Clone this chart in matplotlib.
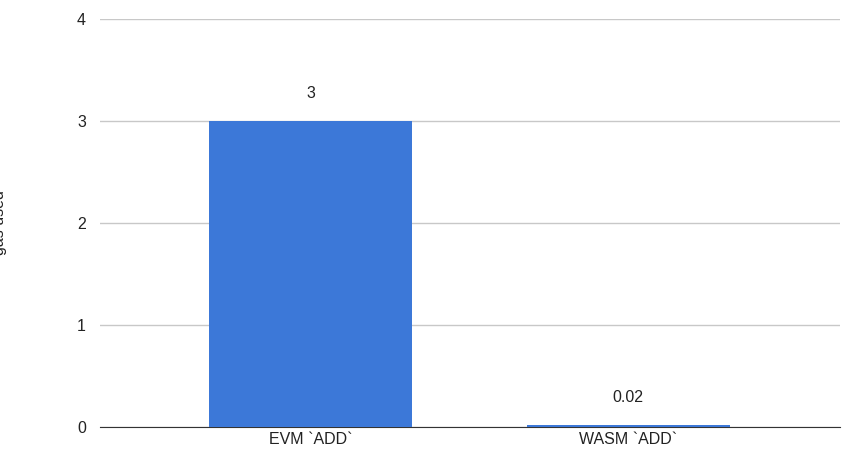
import matplotlib
matplotlib.use("Agg")
import matplotlib.pyplot as plt

plt.rcParams["font.family"] = ["Liberation Sans", "DejaVu Sans"]

categories = ["EVM `ADD`", "WASM `ADD`"]
values = [3, 0.02]
labels = ["3", "0.02"]

fig = plt.figure(figsize=(8.6, 4.7), dpi=100)
ax = fig.add_axes([0.116, 0.0915, 0.861, 0.8681])
x = range(len(categories))
ax.bar(x, values, width=0.64, color="#3c78d8", zorder=3)
for xi, v, l in zip(x, values, labels):
    ax.text(xi, v + 0.2, l, ha="center", va="bottom", fontsize=11.5, color="#222222")
ax.set_xlim(-0.666, 1.669)
ax.set_ylim(0, 4)
ax.set_yticks([0, 1, 2, 3, 4])
ax.set_xticks(list(x))
ax.set_xticklabels(categories)
ax.grid(axis="y", color="#c8c8c8", linewidth=1, zorder=0)
for s in ["top", "right", "left"]:
    ax.spines[s].set_visible(False)
ax.spines["bottom"].set_color("#333333")
ax.tick_params(length=0, labelsize=11.5, colors="#222222")
ax.tick_params(axis="y", pad=10)
ax.set_ylabel("gas used", fontsize=11.5, color="#222222", labelpad=50)
fig.savefig("out.png", dpi=100)
